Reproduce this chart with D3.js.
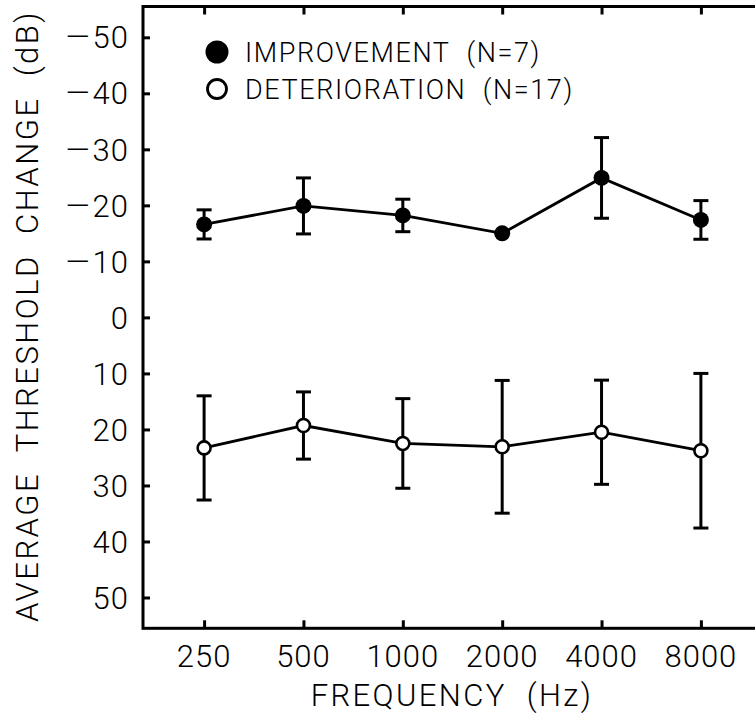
<!DOCTYPE html>
<meta charset="utf-8">
<style>
  body { margin: 0; background: #fff; }
  text { font-family: Roboto, "DejaVu Sans Condensed", sans-serif; font-weight: 300; fill: #000; }
  .frame { fill: none; stroke: #000; stroke-width: 3px; }
  .tick line { stroke: #000; stroke-width: 3px; }
  .series { fill: none; stroke: #000; stroke-width: 2.8px; }
  .err { stroke: #000; stroke-width: 3px; }
</style>
<script src="https://d3js.org/d3.v7.min.js"></script>
<body>
<svg id="chart" width="755" height="717"></svg>
<script>
  var freqs = ["250", "500", "1000", "2000", "4000", "8000"];
  var yTicks = [-50, -40, -30, -20, -10, 0, 10, 20, 30, 40, 50];

  // improvement group (N=7)
  var impMean = [-16.6, -19.9, -18.2, -15.0, -24.9, -17.4];
  var impSD   = [2.6, 5.0, 2.9, 0, 7.2, 3.45];
  // deterioration group (N=17)
  var detMean = [23.3, 19.3, 22.5, 23.1, 20.5, 23.8];
  var detSD   = [9.3, 6.0, 8.0, 11.85, 9.3, 13.8];

  var legendLabels = ["IMPROVEMENT  (N=7)", "DETERIORATION  (N=17)"];

  var plotL = 143, plotR = 762, plotT = 6.5, plotB = 628.3;

  var svg = d3.select("#chart");

  var x = d3.scalePoint()
      .domain(freqs)
      .range([plotL, plotR])
      .padding(0.615);

  var y = d3.scaleLinear()
      .domain([-55.5, 55.5])
      .range([plotT, plotB]);

  // frame
  svg.append("rect")
    .attr("class", "frame")
    .attr("x", plotL).attr("y", plotT)
    .attr("width", plotR - plotL).attr("height", plotB - plotT);

  // left axis, ticks inward
  var yAxis = svg.append("g")
    .attr("transform", "translate(" + plotL + ",0)")
    .call(d3.axisRight(y).tickValues(yTicks).tickSize(7).tickSizeOuter(0).tickFormat(""));
  yAxis.select(".domain").remove();

  var yLab = svg.append("g").selectAll("text")
    .data(yTicks)
    .enter().append("text")
      .attr("x", 129)
      .attr("y", function(d) { return y(d); })
      .attr("dy", "0.36em")
      .attr("text-anchor", "end")
      .style("font-size", "31px")
      .style("letter-spacing", "1px");
  yLab.filter(function(d) { return d < 0; })
    .append("tspan")
      .style("letter-spacing", "3px")
      .text("\u2014");
  yLab.append("tspan")
    .text(function(d) { return Math.abs(d); });

  // bottom axis, ticks inward
  var xAxis = svg.append("g")
    .attr("transform", "translate(0," + plotB + ")")
    .call(d3.axisTop(x).tickSize(8).tickSizeOuter(0).tickFormat(""));
  xAxis.select(".domain").remove();

  // top ticks
  var xTop = svg.append("g")
    .attr("transform", "translate(0," + plotT + ")")
    .call(d3.axisBottom(x).tickSize(8).tickSizeOuter(0).tickFormat(""));
  xTop.select(".domain").remove();

  svg.append("g").selectAll("text")
    .data(freqs)
    .enter().append("text")
      .attr("x", function(d) { return x(d); })
      .attr("y", 667)
      .attr("text-anchor", "middle")
      .style("font-size", "31px")
      .style("letter-spacing", "1px")
      .text(function(d) { return d; });

  // axis titles
  svg.append("text")
    .attr("x", 452)
    .attr("y", 706)
    .attr("text-anchor", "middle")
    .style("font-size", "31px")
    .style("letter-spacing", "2.4px")
    .style("white-space", "pre")
    .text("FREQUENCY  (Hz)");

  svg.append("text")
    .attr("transform", "translate(38,316) rotate(-90)")
    .attr("text-anchor", "middle")
    .style("font-size", "31px")
    .style("letter-spacing", "2.5px")
    .style("white-space", "pre")
    .text("AVERAGE  THRESHOLD  CHANGE  (dB)");

  function drawSeries(means, sds, filled) {
    var pts = freqs.map(function(f, i) { return {f: f, m: means[i], s: sds[i]}; });
    var line = d3.line()
      .x(function(d) { return x(d.f); })
      .y(function(d) { return y(d.m); });

    svg.append("path")
      .datum(pts)
      .attr("class", "series")
      .attr("d", line);

    var eb = svg.append("g").selectAll("g")
      .data(pts.filter(function(d) { return d.s > 0; }))
      .enter().append("g");

    eb.append("line")
      .attr("class", "err")
      .attr("x1", function(d) { return x(d.f); })
      .attr("x2", function(d) { return x(d.f); })
      .attr("y1", function(d) { return y(d.m - d.s); })
      .attr("y2", function(d) { return y(d.m + d.s); });

    [-1, 1].forEach(function(sign) {
      eb.append("line")
        .attr("class", "err")
        .attr("x1", function(d) { return x(d.f) - 7.5; })
        .attr("x2", function(d) { return x(d.f) + 7.5; })
        .attr("y1", function(d) { return y(d.m + sign * d.s); })
        .attr("y2", function(d) { return y(d.m + sign * d.s); });
    });

    svg.append("g").selectAll("circle")
      .data(pts)
      .enter().append("circle")
        .attr("cx", function(d) { return x(d.f); })
        .attr("cy", function(d) { return y(d.m); })
        .attr("r", filled ? 8 : 6.5)
        .attr("fill", filled ? "#000" : "#fff")
        .attr("stroke", "#000")
        .attr("stroke-width", filled ? 0 : 2.6);
  }

  drawSeries(impMean, impSD, true);
  drawSeries(detMean, detSD, false);

  // legend
  var legend = svg.append("g").selectAll("g")
    .data(legendLabels)
    .enter().append("g")
      .attr("transform", function(d, i) { return "translate(217," + (52 + i * 37) + ")"; });

  legend.append("circle")
    .attr("r", function(d, i) { return i === 0 ? 11.5 : 9.5; })
    .attr("fill", function(d, i) { return i === 0 ? "#000" : "#fff"; })
    .attr("stroke", "#000")
    .attr("stroke-width", function(d, i) { return i === 0 ? 0 : 2.8; });

  legend.append("text")
    .attr("x", 28)
    .attr("dy", "0.36em")
    .style("font-size", "27px")
    .style("letter-spacing", "1.6px")
    .style("white-space", "pre")
    .text(function(d) { return d; });
</script>
</body>
